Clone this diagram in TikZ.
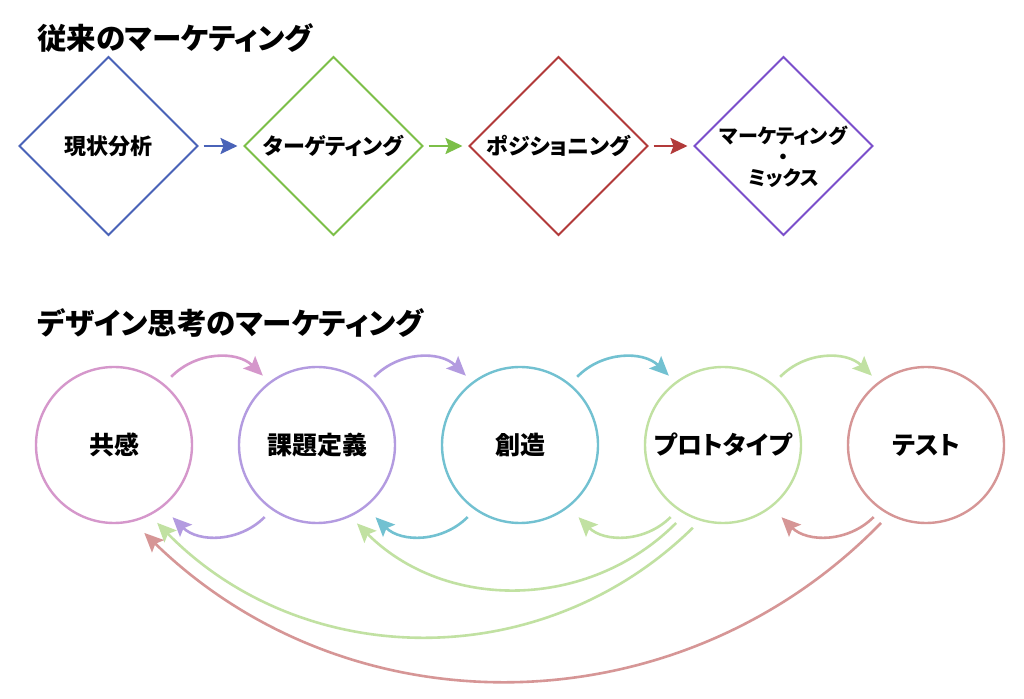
\documentclass[tikz,border=0pt]{standalone}
\usepackage{fontspec}
\newfontfamily\jp{Noto Sans CJK JP}[RawFeature={+palt}]
\usetikzlibrary{shapes.geometric,arrows.meta,calc}
\definecolor{tblue}{HTML}{4A63B8}
\definecolor{tgreen}{HTML}{7CBF48}
\definecolor{tred}{HTML}{B23A3A}
\definecolor{tpurple}{HTML}{7B4FCB}
\definecolor{bpink}{HTML}{D597CB}
\definecolor{bpurple}{HTML}{B39BE0}
\definecolor{bteal}{HTML}{72C1D1}
\definecolor{bgreen}{HTML}{C1E1A2}
\definecolor{bred}{HTML}{D69696}
\begin{document}
\begin{tikzpicture}[x=1pt,y=1pt,
  dia/.style={draw=#1, line width=2pt, shape=diamond, aspect=1, minimum width=178pt, minimum height=178pt, inner sep=0pt, outer sep=0pt},
  circ/.style={draw=#1, line width=2.4pt, circle, minimum size=156pt, inner sep=0pt, outer sep=0pt},
  dtext/.style={font=\jp\bfseries\fontsize{22}{24}\selectfont, align=center, inner sep=0pt},
  dtextsm/.style={font=\jp\bfseries\fontsize{20}{21}\selectfont, align=center, inner sep=0pt},
  ctext/.style={font=\jp\bfseries\fontsize{25}{28}\selectfont, inner sep=0pt},
  ttl/.style={font=\jp\bfseries\fontsize{29.5}{32}\selectfont, anchor=west, inner sep=0pt},
  harr/.style={draw=#1, line width=2.4pt, -{Stealth[length=17pt,width=16pt,inset=3pt]}, shorten <=6pt, shorten >=7pt},
  carr/.style={draw=#1, line width=2.6pt, -{Stealth[length=19pt,width=17pt,inset=3.5pt]}},
]
\fill[white] (0,0) rectangle (1024,698);
\useasboundingbox (0,0) rectangle (1024,698);

% titles
\node[ttl] (title1) at (37,660) {従来のマーケティング};
\node[ttl] (title2) at (37,375) {デザイン思考のマーケティング};

% diamonds
\node[dia=tblue]   (d1) at (108.5,552) {};
\node[dia=tgreen]  (d2) at (333.5,552) {};
\node[dia=tred]    (d3) at (558.5,552) {};
\node[dia=tpurple] (d4) at (783.5,552) {};
\node[dtext] (t1) at (d1) {現状分析};
\node[dtext] (t2) at (d2) {ターゲティング};
\node[dtext] (t3) at (d3) {ポジショニング};
\node[dtextsm, yshift=-11pt] (t4) at (d4) {マーケティング\\・\\ミックス};

\draw[harr=tblue]  (d1.east) -- (d2.west);
\draw[harr=tgreen] (d2.east) -- (d3.west);
\draw[harr=tred]   (d3.east) -- (d4.west);

% circles
\node[circ=bpink]   (c1) at (114,253) {};
\node[circ=bpurple] (c2) at (317,253) {};
\node[circ=bteal]   (c3) at (520,253) {};
\node[circ=bgreen]  (c4) at (723,253) {};
\node[circ=bred]    (c5) at (926,253) {};
\node[ctext] (s1) at (c1) {共感};
\node[ctext] (s2) at (c2) {課題定義};
\node[ctext] (s3) at (c3) {創造};
\node[ctext] (s4) at (c4) {プロトタイプ};
\node[ctext] (s5) at (c5) {テスト};

% forward arrows
\draw[carr=bpink]   ($(c1)+(50:89)$) to[bend left=45] ($(c2)+(128:88)$);
\draw[carr=bpurple] ($(c2)+(50:89)$) to[bend left=45] ($(c3)+(128:88)$);
\draw[carr=bteal]   ($(c3)+(50:89)$) to[bend left=45] ($(c4)+(128:88)$);
\draw[carr=bgreen]  ($(c4)+(50:89)$) to[bend left=45] ($(c5)+(128:88)$);

% backward arrows
\draw[carr=bpurple] ($(c2)+(234:89)$) to[bend left=45] ($(c1)+(-51:93)$);
\draw[carr=bteal]   ($(c3)+(234:89)$) to[bend left=45] ($(c2)+(-51:93)$);
\draw[carr=bgreen]  ($(c4)+(234:89)$) to[bend left=45] ($(c3)+(-51:93)$);
\draw[carr=bred]    ($(c5)+(234:89)$) to[bend left=45] ($(c4)+(-51:93)$);

% long arrows
\draw[carr=bgreen] ($(c4)+(-121:91)$) to[bend left=45] ($(c2)+(-63:88)$);
\draw[carr=bgreen] ($(c4)+(-110:88)$) to[bend left=45] ($(c1)+(-61:89)$);
\draw[carr=bred]   ($(c5)+(-120:90)$) to[bend left=45] ($(c1)+(-71:93)$);
\end{tikzpicture}
\end{document}
